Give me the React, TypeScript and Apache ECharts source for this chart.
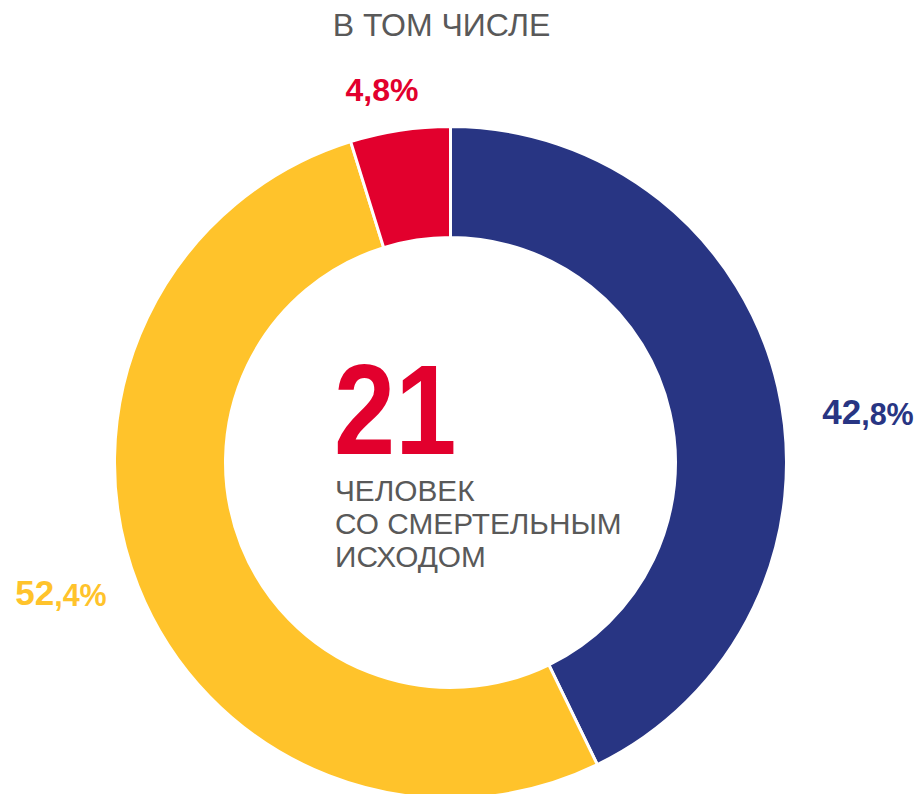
import React, { useEffect, useRef } from "react";
import * as echarts from "echarts";

const categories = ["blue", "yellow", "red"];
const values = [42.8, 52.4, 4.8];
const colors = ["#283583", "#FFC32B", "#E2002D"];
const labelPositions: [number, number][] = [
  [868, 411],
  [61, 592],
  [382, 88],
];
const titleText = "В ТОМ ЧИСЛЕ";
const centerNumber = "21";
const centerCaption = ["ЧЕЛОВЕК", "СО СМЕРТЕЛЬНЫМ", "ИСХОДОМ"];

const FONT = "'Liberation Sans', Arial, sans-serif";

export default function App() {
  const ref = useRef<HTMLDivElement>(null);
  useEffect(() => {
    document.body.style.margin = "0";
    if (!ref.current) return;
    const chart = echarts.init(ref.current, null, { renderer: "svg" });
    const data = categories.map((name, i) => ({
      name,
      value: values[i],
      itemStyle: { color: colors[i] },
      label: { color: colors[i] },
    }));
    chart.setOption({
      animation: false,
      graphic: [
        {
          type: "text",
          x: 441.5,
          y: 25,
          style: {
            text: titleText,
            font: `32px ${FONT}`,
            fill: "#595959",
            align: "center",
            verticalAlign: "middle",
          },
        },
        {
          type: "text",
          x: 334,
          y: 410,
          scaleX: 0.86,
          style: {
            text: centerNumber,
            font: `bold 128px ${FONT}`,
            fill: "#E2002D",
            align: "left",
            verticalAlign: "middle",
          },
        },
        {
          type: "text",
          x: 335,
          y: 474,
          style: {
            text: centerCaption.join("\n"),
            font: `29.8px ${FONT}`,
            lineHeight: 33,
            fill: "#595959",
            align: "left",
            verticalAlign: "top",
          },
        },
      ],
      series: [
        {
          type: "pie",
          center: [450.5, 462.5],
          radius: [225, 336],
          startAngle: 90,
          clockwise: true,
          silent: true,
          emphasis: { disabled: true },
          itemStyle: { borderColor: "#ffffff", borderWidth: 3 },
          labelLine: { show: false },
          label: {
            show: true,
            position: "outside",
            overflow: "none",
            fontFamily: FONT,
            fontWeight: "bold",
            formatter: (p: any) => {
              const s = String(p.value).split(".");
              if (p.dataIndex === 2) return `{r|${s[0]},${s[1]}%}`;
              return `{b|${s[0]}}{s|,${s[1]}%}`;
            },
            rich: {
              b: { fontSize: 35, fontWeight: "bold", fontFamily: FONT, lineHeight: 36, verticalAlign: "bottom" },
              s: { fontSize: 30.5, fontWeight: "bold", fontFamily: FONT, lineHeight: 36, verticalAlign: "bottom" },
              r: { fontSize: 32, fontWeight: "bold", fontFamily: FONT, lineHeight: 36, verticalAlign: "bottom" },
            },
          },
          labelLayout: (params: any) => {
            const pos = labelPositions[params.dataIndex];
            return { x: pos[0], y: pos[1], align: "center", verticalAlign: "middle" };
          },
          data,
        },
      ],
    });
    return () => chart.dispose();
  }, []);
  return <div ref={ref} style={{ width: 919, height: 794 }} />;
}
